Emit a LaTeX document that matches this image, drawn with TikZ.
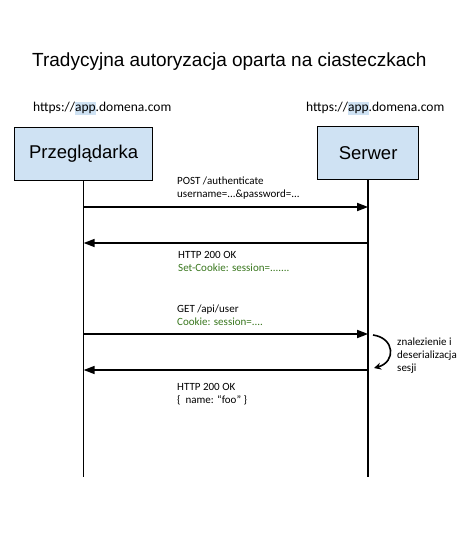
\documentclass[tikz,border=0pt]{standalone}
\usepackage{fontspec}
\setmainfont{Carlito}
\newfontfamily\headfont{Liberation Sans}
\usetikzlibrary{arrows.meta,positioning}
\definecolor{boxblue}{HTML}{CFE2F3}
\definecolor{cookiegreen}{HTML}{38761D}
\newcommand{\apphost}{https://{\setlength{\fboxsep}{0pt}\colorbox{boxblue}{\rule[-3.5pt]{0pt}{13pt}app}}.domena.com}

\begin{document}
\begin{tikzpicture}[x=1pt, y=-1pt, node distance=0mm]
\tikzstyle{actor}=[draw, line width=1.3pt, fill=boxblue, anchor=north west, font=\headfont\fontsize{18.5}{22}\selectfont]
\tikzstyle{host}=[anchor=base west, inner sep=0, font=\fontsize{13.5}{16}\selectfont]
\tikzstyle{msg}=[anchor=north west, inner sep=0, align=left, font=\fontsize{11}{12.8}\selectfont]
\tikzstyle{lifeline}=[line width=1.6pt]
\tikzstyle{call}=[line width=1.6pt, -{Triangle[length=11pt, width=8pt]}]

\useasboundingbox (0,0) rectangle (466,540);

\node[anchor=base west, inner sep=0, font=\headfont\fontsize{19}{22}\selectfont] (title) at (32,67) {Tradycyjna autoryzacja oparta na ciasteczkach};

\node[host] (browserhost) at (33,112) {\apphost};
\node[host] (serverhost) at (306,112) {\apphost};

\node[actor, minimum width=138pt, minimum height=53pt] (browser) at (14,127) {Przeglądarka};
\node[actor, minimum width=101pt, minimum height=53pt] (server) at (317,126) {Serwer};

\coordinate (browserend) at (browser.south |- 0,477);
\coordinate (serverend) at (server.south |- 0,477);
\draw[lifeline] (browser.south) -- (browserend);
\draw[lifeline] (server.south) -- (serverend);

% zadania i odpowiedzi
\coordinate (b1) at (browser.south |- 0,207);
\coordinate (s1) at (server.south |- 0,207);
\coordinate (b2) at (browser.south |- 0,243);
\coordinate (s2) at (server.south |- 0,243);
\coordinate (b3) at (browser.south |- 0,334);
\coordinate (s3) at (server.south |- 0,334);
\coordinate (b4) at (browser.south |- 0,370);
\coordinate (s4) at (server.south |- 0,370);

\draw[call] (b1) -- (s1);
\draw[call] (s2) -- (b2);
\draw[call] (b3) -- (s3);
\draw[call] (s4) -- (b4);

\node[msg] (login) at (177,177) {POST /authenticate\\username=...\&password=...};
\node[msg] (setcookie) at (178,251) {HTTP 200 OK\\\textcolor{cookiegreen}{Set-Cookie: session=.......}};
\node[msg] (getuser) at (177,305) {GET /api/user\\\textcolor{cookiegreen}{Cookie: session=....}};
\node[msg] (userdata) at (177,383) {HTTP 200 OK\\\{\ \ name: “foo” \}};

% wyszukanie sesji po stronie serwera
\coordinate (lookupstart) at (373,335);
\coordinate (lookupend) at (374,368);
\draw[line width=1.6pt, -{Stealth[length=7pt, width=7pt]}] (lookupstart) .. controls (395,338) and (396,362) .. (lookupend);
\node[msg] (lookup) at (397,338) {znalezienie i\\deserializacja\\sesji};
\end{tikzpicture}
\end{document}
